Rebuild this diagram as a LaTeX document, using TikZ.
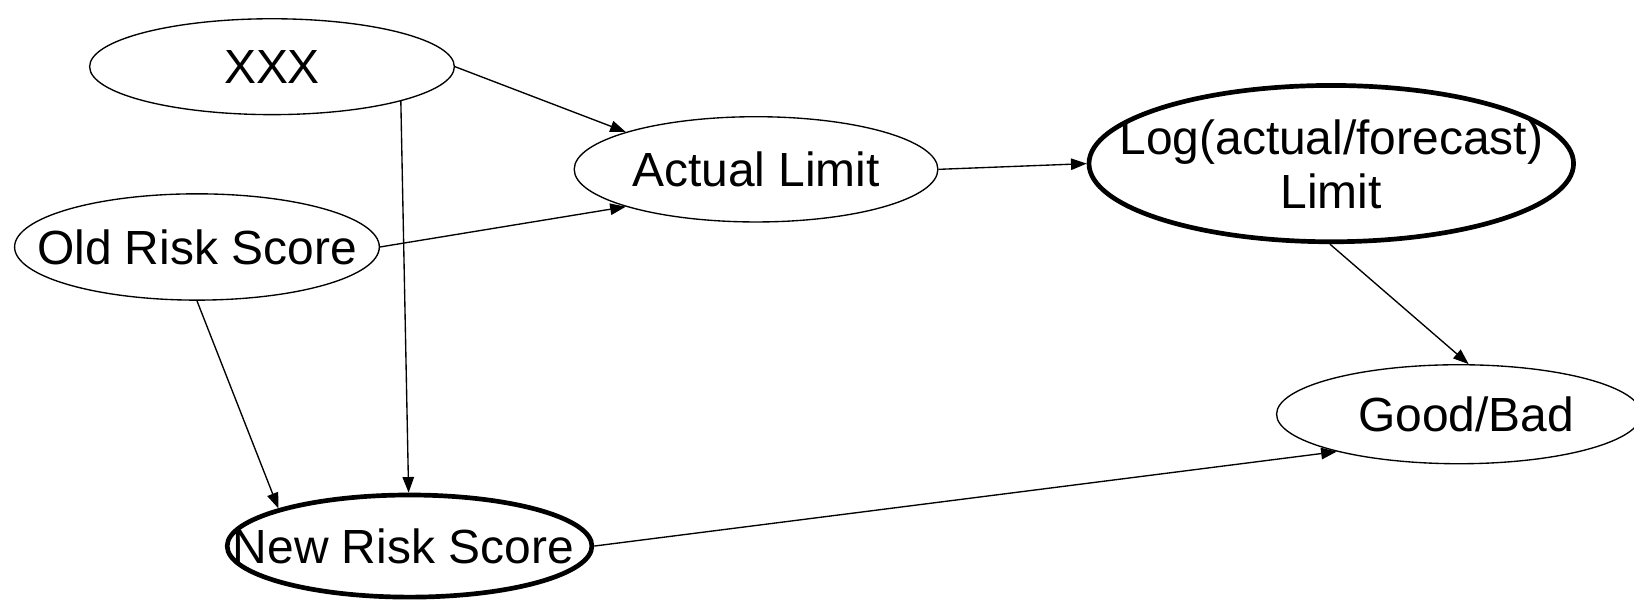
\documentclass[tikz,border=0pt]{standalone}
\usepackage{fontspec}
\setmainfont{Liberation Sans}
\usetikzlibrary{shapes.geometric,arrows.meta}
\tikzset{
  var/.style={ellipse, draw, line width=1.3pt, inner sep=0pt},
  keyvar/.style={var, line width=4.5pt},
  link/.style={-{Triangle[length=15pt,width=11pt]}, line width=1.3pt},
}
% zero-width label so the ellipse size is set only by minimum width/height
\newcommand{\lbl}[1]{\makebox[0pt]{#1}}
\begin{document}
\begin{tikzpicture}[x=1pt, y=-1pt, font=\fontsize{46}{52}\selectfont]
\useasboundingbox (0,0) rectangle (1568,575);
\clip (0,0) rectangle (1568,575);

\node[var, minimum width=350pt, minimum height=92pt] (xxx) at (261,64) {\lbl{XXX}};
\node[var, minimum width=349pt, minimum height=101pt] (al) at (725.5,162.5) {\lbl{Actual Limit}};
\node[keyvar, minimum width=465pt, minimum height=150pt] (log) at (1277.5,157)
  {\raisebox{9pt}[0pt][0pt]{\lbl{\begin{tabular}[t]{@{}c@{}}Log(actual/forecast)\\Limit\end{tabular}}}};
\node[var, minimum width=350pt, minimum height=102pt] (ors) at (189,237) {\lbl{Old Risk Score}};
\node[var, minimum width=350pt, minimum height=95pt] (gb) at (1400,397.5) {\lbl{\hspace{14pt}Good/Bad}};
\node[keyvar, minimum width=350pt, minimum height=98pt] (nrs) at (393,524) {\lbl{New Risk Score\hspace{12pt}}};

\draw[link] (xxx.east) -- (al.164);
\draw[link] (xxx.-15) -- (nrs.91);
\draw[link] (ors.east) -- (al.196);
\draw[link] (ors.south) -- (nrs.164);
\draw[link] (al.east) -- (log.west);
\draw[link] (log.-91) -- (gb.79);
\draw[link] (nrs.east) -- (gb.197);
\end{tikzpicture}
\end{document}
